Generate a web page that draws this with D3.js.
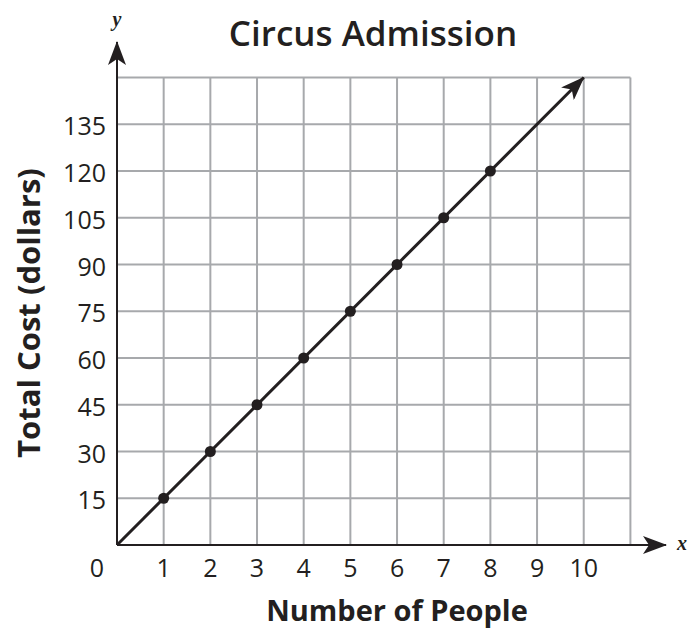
<!DOCTYPE html>
<html>
<head>
<meta charset="utf-8">
<script src="https://cdn.jsdelivr.net/npm/d3@7"></script>
<style>
  body { margin: 0; background: #fff; }
  text { font-family: "Open Sans", "Noto Sans", sans-serif; fill: #231f20; }
</style>
</head>
<body>
<div id="chart"></div>
<script>
// Circus Admission: total cost grows by $15 for each person
const people = [1, 2, 3, 4, 5, 6, 7, 8];
const cost = [15, 30, 45, 60, 75, 90, 105, 120];
const xTicks = [1, 2, 3, 4, 5, 6, 7, 8, 9, 10];
const yTicks = [15, 30, 45, 60, 75, 90, 105, 120, 135];
const lineStart = [0, 0];
const lineEnd = [10, 150];

const width = 690, height = 630;
const svg = d3.select("#chart").append("svg")
  .attr("width", width)
  .attr("height", height);

// scales
const x = d3.scaleLinear().domain([0, 11]).range([117, 630.4]);
const y = d3.scaleLinear().domain([0, 150]).range([545, 77.5]);

// arrow marker
svg.append("defs").append("marker")
  .attr("id", "arrowBig")
  .attr("viewBox", "0 0 24 18")
  .attr("refX", 23)
  .attr("refY", 9)
  .attr("markerWidth", 24)
  .attr("markerHeight", 18)
  .attr("markerUnits", "userSpaceOnUse")
  .attr("orient", "auto")
  .append("path")
  .attr("d", "M0,0 L24,9 L0,18 L6,9 Z")
  .attr("fill", "#231f20");

// grid
const grid = svg.append("g").attr("stroke", "#a7a9ac").attr("stroke-width", 2);
d3.range(1, 12).forEach(v => {
  grid.append("line")
    .attr("x1", x(v)).attr("x2", x(v))
    .attr("y1", y(0)).attr("y2", y(150));
});
d3.range(15, 151, 15).forEach(v => {
  grid.append("line")
    .attr("x1", x(0)).attr("x2", x(11))
    .attr("y1", y(v)).attr("y2", y(v));
});

// axes
svg.append("line")
  .attr("x1", x(0)).attr("x2", 666)
  .attr("y1", y(0)).attr("y2", y(0))
  .attr("stroke", "#231f20").attr("stroke-width", 2)
  .attr("marker-end", "url(#arrowBig)");
svg.append("line")
  .attr("x1", x(0)).attr("x2", x(0))
  .attr("y1", y(0)).attr("y2", 42)
  .attr("stroke", "#231f20").attr("stroke-width", 2)
  .attr("marker-end", "url(#arrowBig)");

// tick labels
svg.append("g").selectAll("text")
  .data(xTicks)
  .enter().append("text")
  .attr("x", d => x(d))
  .attr("y", 577)
  .attr("text-anchor", "middle")
  .style("font-size", "25px")
  .text(d => d);
svg.append("text")
  .attr("x", 97).attr("y", 577)
  .attr("text-anchor", "middle")
  .style("font-size", "25px")
  .text("0");

svg.append("g").selectAll("text")
  .data(yTicks)
  .enter().append("text")
  .attr("x", 106)
  .attr("y", d => y(d) + 11)
  .attr("text-anchor", "end")
  .style("font-size", "25px")
  .text(d => d);

// data line
svg.append("line")
  .attr("x1", x(lineStart[0])).attr("y1", y(lineStart[1]))
  .attr("x2", x(lineEnd[0])).attr("y2", y(lineEnd[1]))
  .attr("stroke", "#231f20").attr("stroke-width", 3)
  .attr("marker-end", "url(#arrowBig)");

// points
svg.append("g").selectAll("circle")
  .data(people)
  .enter().append("circle")
  .attr("cx", d => x(d))
  .attr("cy", (d, i) => y(cost[i]))
  .attr("r", 5.5)
  .attr("fill", "#231f20");

// axis letters
svg.append("text")
  .attr("x", 117).attr("y", 26)
  .attr("text-anchor", "middle")
  .style("font-family", "'Liberation Serif', serif")
  .style("font-style", "italic")
  .style("font-weight", "bold")
  .style("font-size", "20px")
  .text("y");
svg.append("text")
  .attr("x", 682).attr("y", 550)
  .attr("text-anchor", "middle")
  .style("font-family", "'Liberation Serif', serif")
  .style("font-style", "italic")
  .style("font-weight", "bold")
  .style("font-size", "20px")
  .text("x");

// title
svg.append("text")
  .attr("x", 373).attr("y", 46)
  .attr("text-anchor", "middle")
  .style("font-size", "35px")
  .style("font-weight", "600")
  .text("Circus Admission");

// axis titles
svg.append("text")
  .attr("x", 397).attr("y", 621)
  .attr("text-anchor", "middle")
  .style("font-size", "29px")
  .style("font-weight", "bold")
  .text("Number of People");

svg.append("text")
  .attr("transform", "translate(40,313) rotate(-90)")
  .attr("text-anchor", "middle")
  .style("font-size", "31px")
  .style("font-weight", "bold")
  .text("Total Cost (dollars)");
</script>
</body>
</html>
